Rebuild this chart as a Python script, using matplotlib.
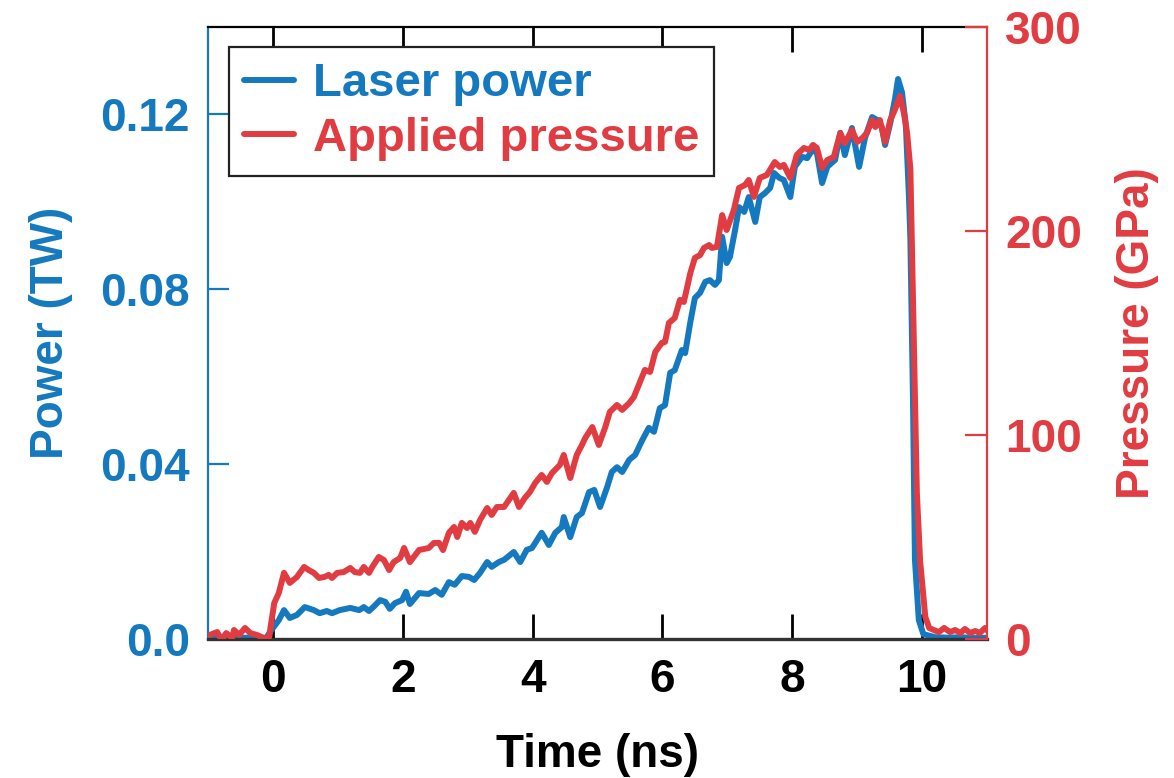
import matplotlib
matplotlib.use("Agg")
import matplotlib.pyplot as plt
import numpy as np

plt.rcParams['font.family'] = ['Liberation Sans', 'DejaVu Sans']
plt.rcParams['font.weight'] = 'bold'
plt.rcParams['axes.labelweight'] = 'bold'

BLUE = '#1579bf'
RED = '#e13c42'

# laser power trace (TW) vs time (ns)
t_power = [-1.0, -0.85, -0.7, -0.55, -0.4, -0.25, -0.1, -0.02, 0.09, 0.17, 0.26, 0.37,
           0.49, 0.63, 0.72, 0.83, 0.91, 1.03, 1.19, 1.33, 1.40, 1.48, 1.56, 1.65, 1.73,
           1.80, 1.88, 1.99, 2.05, 2.11, 2.25, 2.40, 2.50, 2.60, 2.71, 2.80, 2.91, 3.02,
           3.10, 3.19, 3.30, 3.37, 3.48, 3.56, 3.71, 3.81, 3.91, 3.99, 4.14, 4.25, 4.35,
           4.45, 4.48, 4.58, 4.68, 4.76, 4.87, 4.95, 5.04, 5.15, 5.22, 5.30, 5.38, 5.49,
           5.58, 5.69, 5.79, 5.87, 5.96, 6.04, 6.12, 6.19, 6.30, 6.35, 6.43, 6.50, 6.58,
           6.66, 6.73, 6.81, 6.87, 6.92, 6.99, 7.04, 7.12, 7.18, 7.26, 7.33, 7.43, 7.50,
           7.58, 7.66, 7.72, 7.80, 7.87, 7.97, 8.04, 8.15, 8.23, 8.31, 8.38, 8.46, 8.54,
           8.66, 8.74, 8.81, 8.92, 9.03, 9.12, 9.23, 9.31, 9.38, 9.43, 9.51, 9.58, 9.63,
           9.69, 9.75, 9.80, 9.82, 9.86, 9.89, 9.95, 10.02, 10.2, 10.4, 10.6, 10.8, 11.05]
power = [0.0003, 0.0002, 0.0004, 0.0002, 0.0003, 0.0001, 0.0003, 0.0021, 0.0043, 0.0066,
         0.0048, 0.0055, 0.0073, 0.0066, 0.0059, 0.0064, 0.0059, 0.0066, 0.0071, 0.0066,
         0.0073, 0.0064, 0.0075, 0.0089, 0.0085, 0.0069, 0.0082, 0.0089, 0.0108, 0.0080,
         0.0105, 0.0103, 0.0112, 0.0101, 0.0130, 0.0124, 0.0144, 0.0142, 0.0135, 0.0151,
         0.0176, 0.0165, 0.0176, 0.0181, 0.0199, 0.0176, 0.0204, 0.0208, 0.0243, 0.0215,
         0.0243, 0.0256, 0.0279, 0.0233, 0.0279, 0.0288, 0.0336, 0.0341, 0.0302, 0.0348,
         0.0382, 0.0393, 0.0382, 0.0410, 0.0421, 0.0455, 0.0483, 0.0474, 0.0528, 0.0535,
         0.0609, 0.0615, 0.0661, 0.0654, 0.0725, 0.0780, 0.0792, 0.0817, 0.0821, 0.0810,
         0.0821, 0.0920, 0.0860, 0.0874, 0.0936, 0.0988, 0.0977, 0.1011, 0.0954, 0.1011,
         0.1020, 0.1032, 0.1066, 0.1055, 0.1050, 0.1011, 0.1080, 0.1103, 0.1100, 0.1119,
         0.1112, 0.1043, 0.1080, 0.1096, 0.1158, 0.1107, 0.1169, 0.1080, 0.1146, 0.1194,
         0.1187, 0.1171, 0.1130, 0.1180, 0.1233, 0.1281, 0.1251, 0.1176, 0.1004, 0.0913,
         0.0547, 0.0181, 0.0043, 0.0011, 0.0004, 0.0003, 0.0004, 0.0002, 0.0003]

# applied pressure (GPa) vs time (ns)
t_press = [-0.97, -0.86, -0.79, -0.72, -0.63, -0.60, -0.52, -0.43, -0.35, -0.25, -0.14,
           -0.09, -0.06, 0.02, 0.09, 0.17, 0.26, 0.37, 0.48, 0.55, 0.63, 0.71, 0.79, 0.86,
           0.91, 0.99, 1.09, 1.19, 1.26, 1.34, 1.40, 1.48, 1.53, 1.63, 1.71, 1.79, 1.86,
           1.96, 2.02, 2.11, 2.25, 2.40, 2.48, 2.56, 2.62, 2.71, 2.79, 2.84, 2.91, 2.99,
           3.04, 3.11, 3.19, 3.30, 3.37, 3.45, 3.56, 3.71, 3.79, 3.88, 3.96, 4.04, 4.14,
           4.22, 4.30, 4.42, 4.48, 4.58, 4.68, 4.76, 4.81, 4.92, 5.02, 5.12, 5.19, 5.30,
           5.38, 5.49, 5.56, 5.73, 5.81, 5.89, 5.99, 6.04, 6.10, 6.19, 6.27, 6.33, 6.43,
           6.50, 6.58, 6.64, 6.72, 6.76, 6.84, 6.92, 6.99, 7.10, 7.18, 7.27, 7.33, 7.41,
           7.50, 7.61, 7.73, 7.81, 7.87, 7.97, 8.07, 8.18, 8.26, 8.32, 8.38, 8.46, 8.54,
           8.64, 8.74, 8.81, 8.92, 9.00, 9.08, 9.15, 9.23, 9.28, 9.35, 9.43, 9.51, 9.58,
           9.66, 9.72, 9.77, 9.82, 9.88, 9.92, 9.97, 10.05, 10.11, 10.18, 10.26, 10.34,
           10.43, 10.51, 10.59, 10.66, 10.74, 10.82, 10.89, 10.97, 11.03]
pressure = [2.0, 3.4, -0.5, 2.9, 0.5, 4.4, 2.0, 5.4, 2.9, 2.0, 0.5, -0.5, 1.0, 17.6, 22.5,
            32.4, 27.5, 30.4, 35.3, 33.8, 32.4, 29.9, 30.4, 31.4, 29.9, 32.4, 32.8, 34.8,
            32.8, 32.4, 35.3, 32.4, 35.3, 40.2, 38.7, 33.8, 37.7, 39.7, 44.6, 37.7, 43.6,
            44.6, 47.1, 47.1, 43.6, 52.0, 54.9, 50.0, 56.9, 54.4, 56.9, 52.5, 58.3, 64.2,
            60.8, 64.7, 64.7, 71.6, 64.7, 69.1, 72.1, 76.5, 80.4, 77.0, 81.4, 85.3, 90.2,
            78.9, 90.2, 95.1, 98.5, 103.9, 95.1, 103.9, 111.3, 114.7, 112.3, 115.7, 118.6,
            131.9, 130.9, 140.7, 145.1, 145.6, 154.9, 157.4, 166.2, 165.2, 179.4, 186.8,
            188.2, 191.7, 193.1, 191.7, 192.2, 207.8, 200.5, 210.3, 221.1, 222.5, 225.0,
            216.7, 226.0, 227.5, 233.8, 231.4, 232.4, 226.0, 237.3, 240.7, 239.7, 242.2,
            240.7, 230.9, 234.8, 236.3, 248.0, 243.1, 249.5, 243.6, 245.6, 248.0, 254.4,
            251.0, 254.4, 243.6, 254.4, 259.3, 266.2, 257.8, 248.0, 230.4, 136.3, 71.6,
            38.2, 10.8, 5.4, 4.4, 3.4, 5.4, 3.4, 4.4, 2.9, 4.9, 2.9, 3.9, 2.9, 5.4, 3.4]

fig = plt.figure(figsize=(11.74, 7.78), dpi=100)
ax = fig.add_axes([0.1772, 0.1787, 0.6635, 0.7866])
ax2 = ax.twinx()

l1, = ax.plot(t_power, power, color=BLUE, lw=4.3, label='Laser power',
              solid_joinstyle='round', solid_capstyle='round')
l2, = ax2.plot(t_press, pressure, color=RED, lw=4.3, label='Applied pressure',
               solid_joinstyle='round', solid_capstyle='round')

ax.set_xlim(-1, 11)
ax.set_ylim(0, 0.14)
ax2.set_ylim(0, 300)

ax.set_xticks([0, 2, 4, 6, 8, 10])
ax.set_yticks([0.0, 0.04, 0.08, 0.12])
ax.set_yticklabels(['0.0', '0.04', '0.08', '0.12'])
ax2.set_yticks([0, 100, 200, 300])

fs = 33
ax.tick_params(axis='x', direction='in', length=18, width=2.0, pad=14, labelsize=fs,
               top=True, colors='black')
ax.tick_params(axis='y', direction='in', length=15, width=1.6, pad=13, labelsize=fs,
               colors=BLUE)
ax2.tick_params(axis='y', direction='in', length=16, width=1.6, pad=13, labelsize=fs,
                colors=RED)

ax.spines['left'].set_color(BLUE)
ax.spines['left'].set_linewidth(1.6)
ax.spines['right'].set_visible(False)
ax.spines['top'].set_linewidth(1.6)
ax.spines['bottom'].set_color('#333333')
ax.spines['bottom'].set_linewidth(2.4)
for s in ['left', 'top', 'bottom']:
    ax2.spines[s].set_visible(False)
ax2.spines['right'].set_color(RED)
ax2.spines['right'].set_linewidth(1.6)

ax.set_xlabel('Time (ns)', fontsize=fs, fontweight='bold', labelpad=22)
ax.set_ylabel('Power (TW)', fontsize=fs, fontweight='bold', color=BLUE, labelpad=20)
ax2.set_ylabel('Pressure (GPa)', fontsize=fs, fontweight='bold', color=RED, labelpad=24)

leg = ax2.legend(handles=[l1, l2], loc='upper left', bbox_to_anchor=(0.027, 0.967),
                 borderaxespad=0, fontsize=34, handlelength=1.05, handletextpad=0.4,
                 labelspacing=0.22, borderpad=0.32, fancybox=False, framealpha=1,
                 edgecolor='#222222')
leg.get_frame().set_linewidth(1.6)
for txt, c in zip(leg.get_texts(), [BLUE, RED]):
    txt.set_color(c)

fig.savefig('out.png', dpi=100)
